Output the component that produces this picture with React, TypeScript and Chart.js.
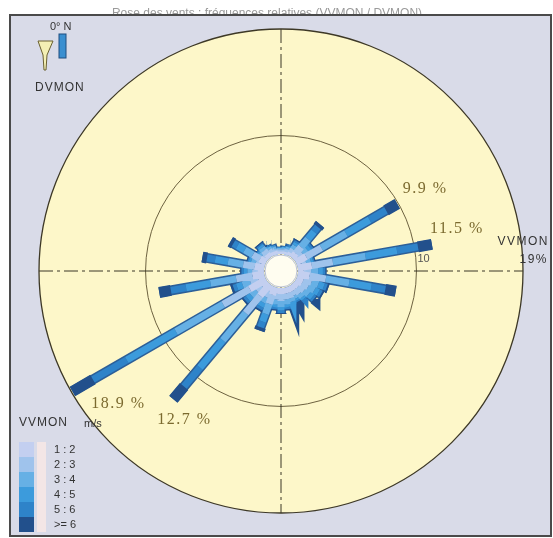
import React, { useEffect, useRef } from "react";
import { Chart, registerables } from "chart.js";

Chart.register(...registerables);

// Wind directions (degrees from north, clockwise)
const DIRECTIONS = [0, 10, 20, 30, 40, 50, 60, 70, 80, 90, 100, 110, 120, 130, 140, 150, 160, 170,
  180, 190, 200, 210, 220, 230, 240, 250, 260, 270, 280, 290, 300, 310, 320, 330, 340, 350];

// Speed classes (m/s)
const SPEED_CLASSES = ["1 : 2", "2 : 3", "3 : 4", "4 : 5", "5 : 6", ">= 6"];
const CLASS_COLORS = ["#c3cff0", "#9fc3ec", "#66b0e5", "#3c9bdc", "#2e83c9", "#22508c"];

// Frequency (%) per direction for each speed class
const CLASS_1_2 = [0.2, 0.2, 0.2, 0.3, 0.5, 0.4, 1.0, 0.4, 1.2, 0.5, 1.0, 0.6, 0.6, 0.5, 0.5, 0.5, 0.5, 0.5,
  0.5, 0.5, 0.7, 0.5, 1.3, 0.6, 1.6, 0.6, 1.0, 0.5, 0.8, 0.4, 0.6, 0.3, 0.4, 0.3, 0.3, 0.2];
const CLASS_2_3 = [0.2, 0.2, 0.25, 0.35, 0.7, 0.5, 1.5, 0.4, 1.8, 0.6, 1.4, 0.7, 0.6, 0.6, 0.5, 0.4, 0.5, 0.5,
  0.6, 0.5, 0.8, 0.6, 1.9, 0.6, 2.6, 0.7, 1.4, 0.5, 1.0, 0.4, 0.7, 0.3, 0.4, 0.3, 0.2, 0.2];
const CLASS_3_4 = [0.1, 0.15, 0.2, 0.35, 0.9, 0.5, 2.4, 0.4, 2.8, 0.6, 2.0, 0.6, 0.6, 0.5, 0.4, 0.3, 0.3, 0.4,
  0.5, 0.4, 0.9, 0.5, 3.0, 0.6, 4.6, 0.7, 2.2, 0.4, 1.3, 0.4, 0.8, 0.3, 0.3, 0.2, 0.2, 0.1];
const CLASS_4_5 = [0.05, 0.08, 0.12, 0.25, 0.8, 0.3, 2.3, 0.2, 2.7, 0.4, 1.9, 0.5, 0.4, 0.4, 0.2, 0.2, 0.2, 0.25,
  0.3, 0.25, 0.7, 0.4, 3.0, 0.4, 4.8, 0.5, 2.1, 0.3, 1.1, 0.2, 0.7, 0.15, 0.2, 0.1, 0.1, 0.05];
const CLASS_5_6 = [0.03, 0.05, 0.08, 0.15, 0.5, 0.2, 1.6, 0.1, 1.8, 0.2, 1.2, 0.25, 0.25, 0.2, 0.1, 0.1, 0.1, 0.15,
  0.2, 0.15, 0.5, 0.25, 2.1, 0.25, 3.3, 0.3, 1.3, 0.2, 0.7, 0.1, 0.4, 0.1, 0.1, 0.05, 0.05, 0.03];
const CLASS_6_UP = [0.02, 0.02, 0.05, 0.1, 0.3, 0.1, 1.1, 0.1, 1.2, 0.1, 0.9, 0.15, 0.15, 0.1, 0.1, 0.1, 0.1, 0.1,
  0.1, 0.1, 0.3, 0.15, 1.4, 0.15, 2.0, 0.2, 1.0, 0.1, 0.4, 0.1, 0.3, 0.05, 0.1, 0.05, 0.05, 0.02];
const CLASSES = [CLASS_1_2, CLASS_2_3, CLASS_3_4, CLASS_4_5, CLASS_5_6, CLASS_6_UP];

// Annotated directions
const LABEL_DIRS = [60, 80, 240, 220];
const LABEL_TEXTS = ["9.9 %", "11.5 %", "18.9 %", "12.7 %"];
const LABEL_OFFSETS = [[28, -15], [25, -16], [46, 12], [11, 21]];

const RING_VALUES = [10, 19];
const HOLE = 1.44; // calm circle (in % units)
const MAX_VALUE = 19;
const R = HOLE + MAX_VALUE;

const TITLE = "Rose des vents : fréquences relatives (VVMON / DVMON)";

function polar(r: number, deg: number) {
  const a = (deg * Math.PI) / 180;
  return { x: r * Math.sin(a), y: r * Math.cos(a) };
}

function buildDatasets() {
  const sets: any[] = [];
  CLASSES.forEach((cls, k) => {
    const pts: any[] = [];
    DIRECTIONS.forEach((d, i) => {
      let start = HOLE;
      for (let j = 0; j < k; j++) start += CLASSES[j][i];
      const end = start + cls[i];
      pts.push(polar(start, d), polar(end, d), { x: null, y: null });
    });
    sets.push({
      label: SPEED_CLASSES[k],
      data: pts,
      showLine: true,
      borderColor: CLASS_COLORS[k],
      backgroundColor: CLASS_COLORS[k],
      borderWidth: k === 5 ? 11 : 7,
      borderCapStyle: "butt",
      pointRadius: 0,
      spanGaps: false,
      order: 1,
    });
  });
  // dark outline under each bar
  const outline: any[] = [];
  DIRECTIONS.forEach((d, i) => {
    let total = 0;
    CLASSES.forEach((c) => (total += c[i]));
    outline.push(polar(HOLE, d), polar(HOLE + total, d), { x: null, y: null });
  });
  sets.push({
    label: "outline",
    data: outline,
    showLine: true,
    borderColor: "#2c5f98",
    borderWidth: 10,
    borderCapStyle: "butt",
    pointRadius: 0,
    spanGaps: false,
    order: 2,
  });
  return sets;
}

const decor = {
  id: "roseDecor",
  beforeDraw(chart: any) {
    const ctx = chart.ctx;
    const xs = chart.scales.x;
    const ys = chart.scales.y;
    const cx = xs.getPixelForValue(0);
    const cy = ys.getPixelForValue(0);
    const rad = (v: number) => xs.getPixelForValue(HOLE + v) - cx;
    ctx.save();
    ctx.fillStyle = "#ffffff";
    ctx.fillRect(0, 0, chart.width, chart.height);
    // title
    ctx.fillStyle = "#9a9a9a";
    ctx.font = "12px 'Liberation Sans', Arial, sans-serif";
    ctx.textAlign = "center";
    ctx.textBaseline = "alphabetic";
    ctx.fillText(TITLE, 267, 17);
    // frame
    ctx.fillStyle = "#d9dbe8";
    ctx.fillRect(10, 15, 541, 521);
    ctx.strokeStyle = "#4a4a4a";
    ctx.lineWidth = 2;
    ctx.strokeRect(10, 15, 541, 521);
    // outer disk
    ctx.beginPath();
    ctx.arc(cx, cy, rad(MAX_VALUE), 0, Math.PI * 2);
    ctx.fillStyle = "#fdf7c9";
    ctx.fill();
    ctx.lineWidth = 1.3;
    ctx.strokeStyle = "#3d3826";
    ctx.stroke();
    // inner ring(s)
    RING_VALUES.filter((v) => v < MAX_VALUE).forEach((v) => {
      ctx.beginPath();
      ctx.arc(cx, cy, rad(v), 0, Math.PI * 2);
      ctx.lineWidth = 1;
      ctx.strokeStyle = "#6d6240";
      ctx.stroke();
    });
    // dash-dot axes
    const rr = rad(MAX_VALUE);
    ctx.setLineDash([14, 4, 3, 4]);
    ctx.strokeStyle = "#3b3727";
    ctx.lineWidth = 1;
    ctx.beginPath();
    ctx.moveTo(cx, cy - rr);
    ctx.lineTo(cx, cy + rr);
    ctx.moveTo(cx - rr, cy);
    ctx.lineTo(cx + rr, cy);
    ctx.stroke();
    ctx.setLineDash([]);
    ctx.restore();
  },
  afterDatasetsDraw(chart: any) {
    const ctx = chart.ctx;
    const xs = chart.scales.x;
    const ys = chart.scales.y;
    const cx = xs.getPixelForValue(0);
    const cy = ys.getPixelForValue(0);
    const rad = (v: number) => xs.getPixelForValue(HOLE + v) - cx;
    ctx.save();
    // calm hole
    ctx.beginPath();
    ctx.arc(cx, cy, rad(0) - 1, 0, Math.PI * 2);
    ctx.fillStyle = "#fffdf0";
    ctx.fill();
    ctx.lineWidth = 1;
    ctx.strokeStyle = "#b9c0d8";
    ctx.stroke();

    // ring label
    ctx.fillStyle = "#555";
    ctx.font = "11px 'Liberation Sans', Arial, sans-serif";
    ctx.textAlign = "left";
    ctx.textBaseline = "middle";
    ctx.fillText(String(RING_VALUES[0]), cx + rad(RING_VALUES[0]) + 1, cy - 12);

    // outer ring label
    ctx.fillStyle = "#333";
    ctx.font = "12px 'Liberation Sans', Arial, sans-serif";
    ctx.textAlign = "right";
    (ctx as any).letterSpacing = "1.5px";
    ctx.fillText("VVMON", 549, cy - 29);
    ctx.fillText(RING_VALUES[1] + "%", 548, cy - 11);

    // bar labels
    ctx.fillStyle = "#7b6a2f";
    ctx.font = "16px 'Liberation Serif', 'Times New Roman', serif";
    ctx.textAlign = "center";
    (ctx as any).letterSpacing = "1.5px";
    LABEL_DIRS.forEach((d, k) => {
      const i = DIRECTIONS.indexOf(d);
      let total = 0;
      CLASSES.forEach((c) => (total += c[i]));
      const p = polar(HOLE + total, d);
      const px = xs.getPixelForValue(p.x);
      const py = ys.getPixelForValue(p.y);
      ctx.fillText(LABEL_TEXTS[k], px + LABEL_OFFSETS[k][0], py + LABEL_OFFSETS[k][1]);
    });
    (ctx as any).letterSpacing = "0px";

    // compass key (top-left)
    ctx.fillStyle = "#333";
    ctx.font = "11px 'Liberation Sans', Arial, sans-serif";
    ctx.textAlign = "left";
    ctx.fillText("0° N", 50, 27);
    ctx.fillStyle = "#3a8fd0";
    ctx.strokeStyle = "#1f4f80";
    ctx.fillRect(59, 34, 7, 24);
    ctx.strokeRect(59, 34, 7, 24);
    ctx.beginPath();
    ctx.moveTo(38, 41);
    ctx.lineTo(53, 41);
    ctx.lineTo(47, 55);
    ctx.lineTo(46, 70);
    ctx.lineTo(44, 70);
    ctx.lineTo(43, 55);
    ctx.closePath();
    ctx.fillStyle = "#f3efb4";
    ctx.fill();
    ctx.strokeStyle = "#6a6030";
    ctx.stroke();
    ctx.fillStyle = "#333";
    ctx.font = "12px 'Liberation Sans', Arial, sans-serif";
    (ctx as any).letterSpacing = "1px";
    ctx.fillText("DVMON", 35, 88);

    // speed legend (bottom-left)
    ctx.fillText("VVMON", 19, 423);
    (ctx as any).letterSpacing = "0px";
    ctx.font = "11px 'Liberation Sans', Arial, sans-serif";
    ctx.fillText("m/s", 84, 424);
    SPEED_CLASSES.forEach((lab, k) => {
      const y0 = 442 + k * 15;
      ctx.fillStyle = CLASS_COLORS[k];
      ctx.fillRect(19, y0, 15, 15);
      ctx.fillStyle = "#f3e6e6";
      ctx.fillRect(37, y0, 9, 15);
      ctx.fillStyle = "#333";
      ctx.font = "11px 'Liberation Sans', Arial, sans-serif";
      ctx.textBaseline = "middle";
      ctx.fillText(lab, 54, y0 + 8);
    });
    ctx.restore();
  },
};

export default function App() {
  const ref = useRef<HTMLCanvasElement | null>(null);
  useEffect(() => {
    if (!ref.current) return;
    const chart = new Chart(ref.current, {
      type: "scatter",
      data: { datasets: buildDatasets() },
      options: {
        responsive: false,
        animation: false,
        events: [],
        layout: { padding: { left: 39, top: 29, right: 30, bottom: 25 } },
        scales: {
          x: { type: "linear", min: -R, max: R, display: false },
          y: { type: "linear", min: -R, max: R, display: false },
        },
        plugins: {
          legend: { display: false },
          tooltip: { enabled: false },
          title: { display: false },
        },
        elements: { point: { radius: 0, hoverRadius: 0 }, line: { tension: 0 } },
      },
      plugins: [decor],
    } as any);
    return () => chart.destroy();
  }, []);
  return (
    <div style={{ position: "absolute", left: 0, top: 0, width: 553, height: 538 }}>
      <canvas ref={ref} width={553} height={538} style={{ display: "block" }} />
    </div>
  );
}
